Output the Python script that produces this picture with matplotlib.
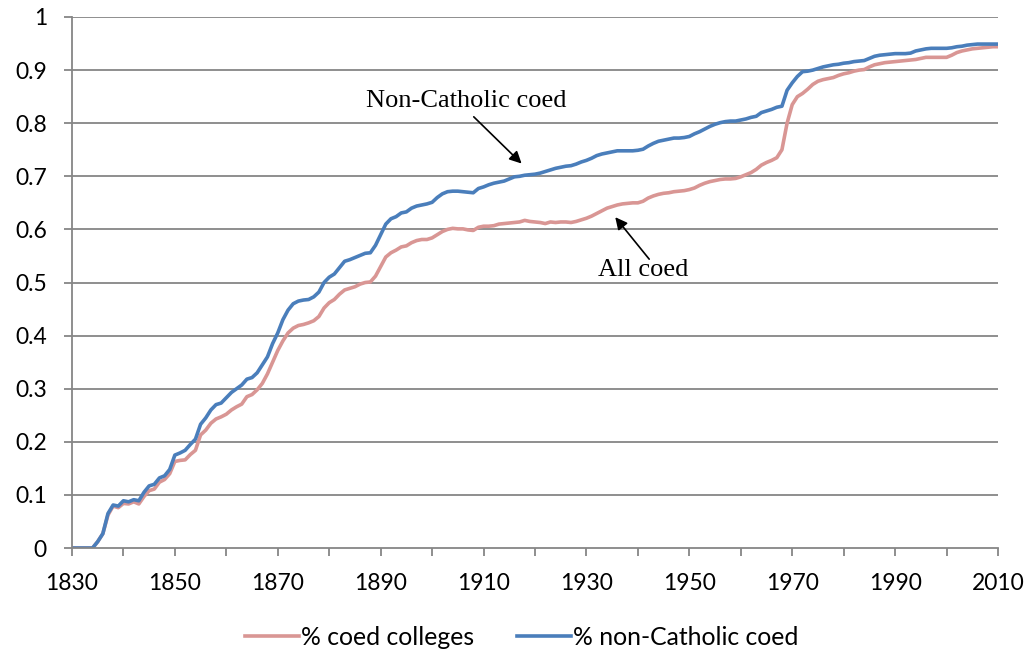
import numpy as np
import matplotlib
matplotlib.use("Agg")
import matplotlib.pyplot as plt

years = list(range(1830, 2011))

# % coed colleges (all)
all_coed = [
    0, 0, 0, 0, 0, 0.012, 0.027, 0.062, 0.079, 0.076,
    0.084, 0.083, 0.087, 0.083, 0.097, 0.108, 0.111, 0.124, 0.129, 0.140,
    0.163, 0.165, 0.166, 0.176, 0.184, 0.213, 0.222, 0.235, 0.243, 0.247,
    0.252, 0.260, 0.266, 0.271, 0.285, 0.289, 0.298, 0.310, 0.328, 0.350,
    0.372, 0.390, 0.405, 0.414, 0.419, 0.421, 0.424, 0.428, 0.436, 0.452,
    0.462, 0.468, 0.478, 0.486, 0.489, 0.492, 0.497, 0.500, 0.501, 0.512,
    0.530, 0.548, 0.556, 0.561, 0.567, 0.569, 0.575, 0.579, 0.581, 0.581,
    0.584, 0.590, 0.596, 0.600, 0.602, 0.601, 0.601, 0.599, 0.598, 0.604,
    0.606, 0.606, 0.607, 0.610, 0.611, 0.612, 0.613, 0.614, 0.617, 0.615,
    0.614, 0.613, 0.611, 0.614, 0.613, 0.614, 0.614, 0.613, 0.615, 0.618,
    0.621, 0.625, 0.630, 0.635, 0.640, 0.643, 0.646, 0.648, 0.649, 0.650,
    0.650, 0.653, 0.659, 0.663, 0.666, 0.668, 0.669, 0.671, 0.672, 0.673,
    0.675, 0.678, 0.683, 0.687, 0.690, 0.692, 0.694, 0.695, 0.695, 0.696,
    0.699, 0.703, 0.707, 0.713, 0.721, 0.726, 0.730, 0.735, 0.750, 0.800,
    0.835, 0.850, 0.856, 0.864, 0.873, 0.879, 0.882, 0.884, 0.886, 0.890,
    0.893, 0.895, 0.898, 0.900, 0.901, 0.906, 0.910, 0.912, 0.914, 0.915,
    0.916, 0.917, 0.918, 0.919, 0.920, 0.922, 0.924, 0.924, 0.924, 0.924,
    0.924, 0.928, 0.933, 0.936, 0.938, 0.940, 0.941, 0.942, 0.943, 0.944,
    0.944,
]

# % non-Catholic coed
non_catholic = [
    0, 0, 0, 0, 0, 0.012, 0.027, 0.065, 0.081, 0.079,
    0.089, 0.087, 0.091, 0.089, 0.105, 0.117, 0.120, 0.132, 0.136, 0.148,
    0.175, 0.179, 0.184, 0.195, 0.205, 0.233, 0.245, 0.260, 0.270, 0.273,
    0.283, 0.293, 0.300, 0.307, 0.318, 0.321, 0.330, 0.345, 0.360, 0.385,
    0.405, 0.430, 0.448, 0.460, 0.465, 0.467, 0.468, 0.473, 0.482, 0.500,
    0.510, 0.516, 0.528, 0.540, 0.543, 0.547, 0.551, 0.555, 0.556, 0.570,
    0.590, 0.610, 0.620, 0.624, 0.631, 0.633, 0.640, 0.644, 0.646, 0.648,
    0.651, 0.660, 0.667, 0.671, 0.672, 0.672, 0.671, 0.670, 0.669, 0.677,
    0.680, 0.684, 0.687, 0.689, 0.691, 0.695, 0.699, 0.700, 0.702, 0.703,
    0.704, 0.706, 0.709, 0.712, 0.715, 0.717, 0.719, 0.720, 0.723, 0.727,
    0.730, 0.734, 0.739, 0.742, 0.744, 0.746, 0.748, 0.748, 0.748, 0.748,
    0.749, 0.751, 0.757, 0.762, 0.766, 0.768, 0.770, 0.772, 0.772, 0.773,
    0.775, 0.780, 0.784, 0.789, 0.794, 0.798, 0.801, 0.803, 0.804, 0.804,
    0.806, 0.808, 0.811, 0.813, 0.820, 0.823, 0.826, 0.830, 0.832, 0.862,
    0.876, 0.888, 0.897, 0.898, 0.900, 0.903, 0.906, 0.908, 0.910, 0.911,
    0.913, 0.914, 0.916, 0.917, 0.918, 0.922, 0.926, 0.928, 0.929, 0.930,
    0.931, 0.931, 0.931, 0.932, 0.936, 0.938, 0.940, 0.941, 0.941, 0.941,
    0.941, 0.942, 0.944, 0.945, 0.947, 0.948, 0.949, 0.949, 0.949, 0.949,
    0.949,
]

x_ticks = list(range(1830, 2011, 20))
y_ticks = [0, 0.1, 0.2, 0.3, 0.4, 0.5, 0.6, 0.7, 0.8, 0.9, 1]
y_labels = ["0", "0.1", "0.2", "0.3", "0.4", "0.5", "0.6", "0.7", "0.8", "0.9", "1"]

pink = "#D99694"
blue = "#4A7EBB"
grid = "#868686"

plt.rcParams["font.family"] = ["Lato", "DejaVu Sans"]

fig = plt.figure(figsize=(10.31, 6.56), dpi=100)
ax = fig.add_axes([0.0698, 0.1646, 0.8982, 0.8095])

ax.plot(years, all_coed, color=pink, lw=2.6, label="% coed colleges", solid_joinstyle="round")
ax.plot(years, non_catholic, color=blue, lw=2.6, label="% non-Catholic coed", solid_joinstyle="round")

ax.set_xlim(1830, 2010)
ax.set_ylim(0, 1)
ax.set_xticks(x_ticks)
ax.set_xticks(range(1830, 2011, 10), minor=True)
ax.set_yticks(y_ticks)
ax.set_yticklabels(y_labels)

for y in y_ticks[1:]:
    ax.axhline(y, color=grid, lw=1.3, zorder=0)

for s in ["top", "right"]:
    ax.spines[s].set_visible(False)
for s in ["left", "bottom"]:
    ax.spines[s].set_color(grid)
    ax.spines[s].set_linewidth(1.3)

ax.tick_params(axis="both", which="both", color=grid, width=1.3, labelsize=16.5)
ax.tick_params(axis="x", which="both", length=6, direction="out", pad=12)
ax.tick_params(axis="y", length=6, direction="out", pad=12)

# annotations
serif = ["Liberation Serif", "DejaVu Serif"]
ax.text(1906.6, 0.842, "Non-Catholic coed", fontsize=19, family=serif,
        ha="center", va="center")
ax.annotate("", xy=(1917.4, 0.724), xytext=(1908.1, 0.812),
            arrowprops=dict(arrowstyle="-|>", color="black", lw=1.2,
                            mutation_scale=18, shrinkA=0, shrinkB=0))
ax.text(1941.0, 0.5235, "All coed", fontsize=19, family=serif,
        ha="center", va="center")
ax.annotate("", xy=(1935.6, 0.623), xytext=(1942.2, 0.544),
            arrowprops=dict(arrowstyle="-|>", color="black", lw=1.2,
                            mutation_scale=18, shrinkA=0, shrinkB=0))

fig.legend(loc="center", bbox_to_anchor=(0.506, 0.028), ncol=2, frameon=False,
           fontsize=17.8, handlelength=2.2, handletextpad=0.1, columnspacing=1.7)

fig.savefig("out.png", dpi=100)
